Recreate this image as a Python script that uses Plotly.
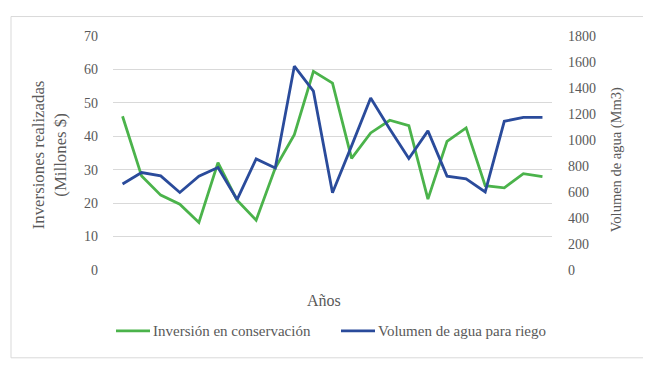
import plotly.graph_objects as go

years = [str(i) for i in range(1, 24)]
inversion = [46.0, 28.1, 22.4, 19.7, 14.2, 32.1, 20.9, 14.9, 30.5, 40.5, 59.4, 55.9,
             33.4, 41.0, 44.8, 43.2, 21.2, 38.5, 42.5, 25.2, 24.6, 28.8, 27.9]
volumen = [662, 750, 724, 596, 722, 788, 542, 854, 785, 1568, 1376, 594,
           955, 1323, 1085, 857, 1070, 722, 701, 601, 1144, 1174, 1174]
left_ticks = [0, 10, 20, 30, 40, 50, 60, 70]
right_ticks = [0, 200, 400, 600, 800, 1000, 1200, 1400, 1600, 1800]
series_names = ["Inversión en conservación", "Volumen de agua para riego"]

OFF = 8  # page body margin offset
W, H = 651 - OFF, 369 - OFF
L, R, T, B = 113 - OFF, 552 - OFF, 35.5 - OFF, 270 - OFF  # plot area in figure pixels
pw, ph = R - L, B - T

def px(x):  # reference page pixel -> paper x
    return (x - OFF - L) / pw

def py(y):  # reference page pixel -> paper y
    return (B - (y - OFF)) / ph

GREEN = "#4BB34B"
BLUE = "#2A4B9B"
TXT = "#595959"
FONT = "Liberation Serif"

fig = go.Figure()
fig.add_trace(go.Scatter(x=years, y=inversion, mode="lines", name=series_names[0],
                         line=dict(color=GREEN, width=2.8)))
fig.add_trace(go.Scatter(x=years, y=volumen, mode="lines", name=series_names[1],
                         line=dict(color=BLUE, width=2.8), yaxis="y2"))

shapes = [dict(type="rect", xref="paper", yref="paper",
               x0=px(11), x1=px(646), y0=py(358), y1=py(16),
               line=dict(color="#D9D9D9", width=1), fillcolor="rgba(0,0,0,0)", layer="below")]
annotations = [
    dict(text="Inversiones realizadas<br>(Millones $)", xref="paper", yref="paper",
         x=px(49), y=py(155), textangle=-90, showarrow=False,
         font=dict(size=16.8, color=TXT), xanchor="center", yanchor="middle"),
    dict(text="Volumen de agua (Mm3)", xref="paper", yref="paper",
         x=px(616), y=py(160), textangle=-90, showarrow=False,
         font=dict(size=14.5, color=TXT), xanchor="center", yanchor="middle"),
    dict(text="Años", xref="paper", yref="paper", x=px(324), y=py(301),
         showarrow=False, font=dict(size=16, color=TXT),
         xanchor="center", yanchor="middle"),
]
# manual legend
LEG_Y = 331
for (x0, x1), name, col in [((116, 150), series_names[0], GREEN),
                            ((341, 375), series_names[1], BLUE)]:
    shapes.append(dict(type="line", xref="paper", yref="paper", x0=px(x0), x1=px(x1),
                       y0=py(LEG_Y), y1=py(LEG_Y), line=dict(color=col, width=2.8)))
    annotations.append(dict(text=name, xref="paper", yref="paper", x=px(x1 + 1), y=py(LEG_Y),
                            showarrow=False, xanchor="left", yanchor="middle",
                            font=dict(size=15, color=TXT)))

fig.update_layout(
    width=W, height=H,
    margin=dict(l=L, r=W - R, t=T, b=H - B, pad=0),
    paper_bgcolor="white", plot_bgcolor="white",
    font=dict(family=FONT, color=TXT, size=14),
    xaxis=dict(type="category", showticklabels=False, showgrid=False, zeroline=False,
               showline=False, ticks="", range=[-0.5, 22.5]),
    yaxis=dict(range=[0, 70], tickvals=left_ticks, showgrid=True, gridcolor="#D9D9D9",
               gridwidth=1, zeroline=False, showline=False, ticks="",
               ticklabelstandoff=14, tickfont=dict(size=14, color=TXT)),
    yaxis2=dict(range=[0, 1800], tickvals=right_ticks, overlaying="y", side="right",
                showgrid=False, zeroline=False, showline=False, ticks="",
                ticklabelstandoff=15, tickfont=dict(size=14, color=TXT)),
    showlegend=False,
    shapes=shapes,
    annotations=annotations,
)

fig.write_html("out.html")
